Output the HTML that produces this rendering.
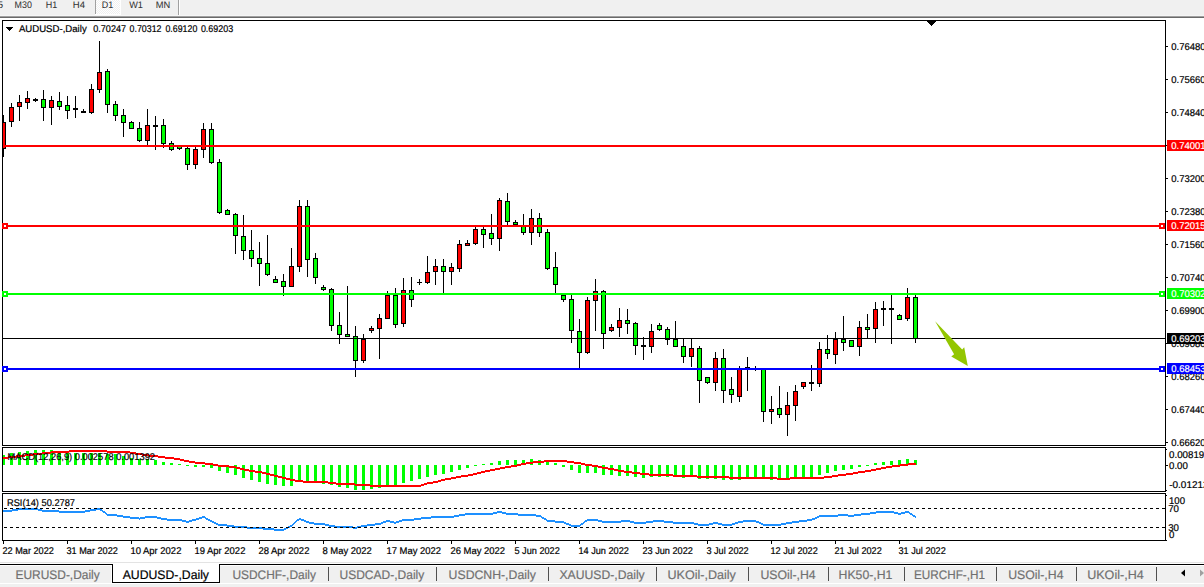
<!DOCTYPE html>
<html lang="en"><head><meta charset="utf-8"><title>AUDUSD-,Daily</title>
<style>html,body{margin:0;padding:0;background:#fff;overflow:hidden}svg{display:block}text{white-space:pre}</style></head>
<body>
<svg width="1204" height="587" viewBox="0 0 1204 587" font-family='"Liberation Sans", sans-serif' font-size="9.8" fill="#000" text-rendering="geometricPrecision">
<defs><clipPath id="cm"><rect x="3" y="21" width="1162" height="424"/></clipPath><clipPath id="cd"><rect x="3" y="448" width="1162" height="43"/></clipPath><clipPath id="cr"><rect x="3" y="494" width="1162" height="46"/></clipPath><pattern id="dth" width="2" height="2" patternUnits="userSpaceOnUse"><rect width="2" height="2" fill="#fff"/><rect width="1" height="1" fill="#f0f0f0"/><rect x="1" y="1" width="1" height="1" fill="#f0f0f0"/></pattern></defs>
<rect width="1204" height="587" fill="#fff"/>
<g shape-rendering="crispEdges">
<rect x="0" y="0" width="1204" height="15" fill="#f0f0f0"/>
<rect x="0" y="15" width="1204" height="1" fill="#f5f5f5"/>
<rect x="0" y="16" width="1204" height="1" fill="#a0a0a0"/>
<rect x="0" y="17" width="1204" height="1" fill="#696969"/>
<rect x="96" y="0" width="24" height="14" fill="url(#dth)"/>
<rect x="95" y="0" width="1" height="14" fill="#a0a0a0"/>
<rect x="95" y="14" width="26" height="1" fill="#fff"/>
<rect x="120" y="0" width="1" height="14" fill="#fff"/>
<rect x="178" y="0" width="1" height="15" fill="#a0a0a0"/>
<rect x="179" y="0" width="1" height="15" fill="#fff"/>
<rect x="2" y="20" width="1164" height="1"/>
<rect x="2" y="445" width="1164" height="1"/>
<rect x="2" y="20" width="1" height="426"/>
<rect x="1165" y="20" width="1" height="426"/>
<rect x="2" y="447" width="1164" height="1"/>
<rect x="2" y="491" width="1164" height="1"/>
<rect x="2" y="447" width="1" height="45"/>
<rect x="1165" y="447" width="1" height="45"/>
<rect x="2" y="493" width="1164" height="1"/>
<rect x="2" y="540" width="1164" height="1"/>
<rect x="2" y="493" width="1" height="48"/>
<rect x="1165" y="493" width="1" height="48"/>
<rect x="927" y="21" width="9" height="1"/>
<rect x="928" y="22" width="7" height="1"/>
<rect x="929" y="23" width="5" height="1"/>
<rect x="930" y="24" width="3" height="1"/>
<rect x="931" y="25" width="1" height="1"/>
<rect x="6" y="27" width="7" height="1"/>
<rect x="7" y="28" width="5" height="1"/>
<rect x="8" y="29" width="3" height="1"/>
<rect x="9" y="30" width="1" height="1"/>
<rect x="1166" y="46" width="2" height="1"/>
<rect x="1166" y="79" width="2" height="1"/>
<rect x="1166" y="112" width="2" height="1"/>
<rect x="1166" y="145" width="2" height="1"/>
<rect x="1166" y="178" width="2" height="1"/>
<rect x="1166" y="211" width="2" height="1"/>
<rect x="1166" y="244" width="2" height="1"/>
<rect x="1166" y="277" width="2" height="1"/>
<rect x="1166" y="310" width="2" height="1"/>
<rect x="1166" y="343" width="2" height="1"/>
<rect x="1166" y="376" width="2" height="1"/>
<rect x="1166" y="409" width="2" height="1"/>
<rect x="1166" y="442" width="2" height="1"/>
<rect x="1166" y="449" width="1" height="1"/>
<rect x="1166" y="465" width="2" height="1"/>
<rect x="1166" y="490" width="1" height="1"/>
<rect x="1166" y="495" width="1" height="1"/>
<rect x="1166" y="540" width="1" height="1"/>
<rect x="3" y="541" width="1" height="3"/>
<rect x="67" y="541" width="1" height="3"/>
<rect x="131" y="541" width="1" height="3"/>
<rect x="195" y="541" width="1" height="3"/>
<rect x="259" y="541" width="1" height="3"/>
<rect x="323" y="541" width="1" height="3"/>
<rect x="387" y="541" width="1" height="3"/>
<rect x="451" y="541" width="1" height="3"/>
<rect x="515" y="541" width="1" height="3"/>
<rect x="579" y="541" width="1" height="3"/>
<rect x="643" y="541" width="1" height="3"/>
<rect x="707" y="541" width="1" height="3"/>
<rect x="771" y="541" width="1" height="3"/>
<rect x="835" y="541" width="1" height="3"/>
<rect x="899" y="541" width="1" height="3"/>
<g clip-path="url(#cm)">
<rect x="3" y="115" width="1" height="42"/>
<rect x="1" y="122" width="5" height="27"/>
<rect x="2" y="123" width="3" height="25" fill="#f00"/>
<rect x="11" y="103" width="1" height="24"/>
<rect x="9" y="107" width="5" height="15"/>
<rect x="10" y="108" width="3" height="13" fill="#f00"/>
<rect x="19" y="95" width="1" height="26"/>
<rect x="17" y="102" width="5" height="5"/>
<rect x="18" y="103" width="3" height="3" fill="#f00"/>
<rect x="27" y="91" width="1" height="18"/>
<rect x="25" y="98" width="5" height="5"/>
<rect x="26" y="99" width="3" height="3" fill="#f00"/>
<rect x="35" y="98" width="1" height="4"/>
<rect x="33" y="99" width="5" height="2"/>
<rect x="43" y="90" width="1" height="31"/>
<rect x="41" y="99" width="5" height="9"/>
<rect x="42" y="100" width="3" height="7" fill="#0f0"/>
<rect x="51" y="96" width="1" height="29"/>
<rect x="49" y="100" width="5" height="8"/>
<rect x="50" y="101" width="3" height="6" fill="#f00"/>
<rect x="59" y="92" width="1" height="18"/>
<rect x="57" y="101" width="5" height="6"/>
<rect x="58" y="102" width="3" height="4" fill="#0f0"/>
<rect x="67" y="96" width="1" height="23"/>
<rect x="65" y="105" width="5" height="6"/>
<rect x="66" y="106" width="3" height="4" fill="#0f0"/>
<rect x="75" y="96" width="1" height="22"/>
<rect x="73" y="108" width="5" height="2"/>
<rect x="83" y="109" width="1" height="4"/>
<rect x="81" y="111" width="5" height="2"/>
<rect x="91" y="84" width="1" height="30"/>
<rect x="89" y="89" width="5" height="24"/>
<rect x="90" y="90" width="3" height="22" fill="#f00"/>
<rect x="99" y="41" width="1" height="52"/>
<rect x="97" y="72" width="5" height="18"/>
<rect x="98" y="73" width="3" height="16" fill="#f00"/>
<rect x="107" y="69" width="1" height="44"/>
<rect x="105" y="71" width="5" height="34"/>
<rect x="106" y="72" width="3" height="32" fill="#0f0"/>
<rect x="115" y="101" width="1" height="20"/>
<rect x="113" y="104" width="5" height="12"/>
<rect x="114" y="105" width="3" height="10" fill="#0f0"/>
<rect x="123" y="109" width="1" height="28"/>
<rect x="121" y="115" width="5" height="8"/>
<rect x="122" y="116" width="3" height="6" fill="#0f0"/>
<rect x="131" y="121" width="1" height="8"/>
<rect x="129" y="122" width="5" height="7"/>
<rect x="130" y="123" width="3" height="5" fill="#0f0"/>
<rect x="139" y="122" width="1" height="20"/>
<rect x="137" y="128" width="5" height="13"/>
<rect x="138" y="129" width="3" height="11" fill="#0f0"/>
<rect x="147" y="109" width="1" height="36"/>
<rect x="145" y="125" width="5" height="16"/>
<rect x="146" y="126" width="3" height="14" fill="#f00"/>
<rect x="155" y="116" width="1" height="34"/>
<rect x="153" y="125" width="5" height="2"/>
<rect x="163" y="119" width="1" height="29"/>
<rect x="161" y="125" width="5" height="19"/>
<rect x="162" y="126" width="3" height="17" fill="#0f0"/>
<rect x="171" y="141" width="1" height="10"/>
<rect x="169" y="143" width="5" height="7"/>
<rect x="170" y="144" width="3" height="5" fill="#0f0"/>
<rect x="179" y="145" width="1" height="5"/>
<rect x="177" y="145" width="5" height="4"/>
<rect x="178" y="146" width="3" height="2" fill="#0f0"/>
<rect x="187" y="147" width="1" height="23"/>
<rect x="185" y="148" width="5" height="17"/>
<rect x="186" y="149" width="3" height="15" fill="#0f0"/>
<rect x="195" y="147" width="1" height="22"/>
<rect x="193" y="149" width="5" height="16"/>
<rect x="194" y="150" width="3" height="14" fill="#f00"/>
<rect x="203" y="123" width="1" height="35"/>
<rect x="201" y="129" width="5" height="21"/>
<rect x="202" y="130" width="3" height="19" fill="#f00"/>
<rect x="211" y="123" width="1" height="41"/>
<rect x="209" y="129" width="5" height="34"/>
<rect x="210" y="130" width="3" height="32" fill="#0f0"/>
<rect x="219" y="159" width="1" height="55"/>
<rect x="217" y="162" width="5" height="51"/>
<rect x="218" y="163" width="3" height="49" fill="#0f0"/>
<rect x="227" y="209" width="1" height="6"/>
<rect x="225" y="210" width="5" height="5"/>
<rect x="226" y="211" width="3" height="3" fill="#0f0"/>
<rect x="235" y="213" width="1" height="41"/>
<rect x="233" y="214" width="5" height="22"/>
<rect x="234" y="215" width="3" height="20" fill="#0f0"/>
<rect x="243" y="215" width="1" height="45"/>
<rect x="241" y="236" width="5" height="15"/>
<rect x="242" y="237" width="3" height="13" fill="#0f0"/>
<rect x="251" y="230" width="1" height="37"/>
<rect x="249" y="250" width="5" height="9"/>
<rect x="250" y="251" width="3" height="7" fill="#0f0"/>
<rect x="259" y="242" width="1" height="44"/>
<rect x="257" y="258" width="5" height="6"/>
<rect x="258" y="259" width="3" height="4" fill="#0f0"/>
<rect x="267" y="235" width="1" height="41"/>
<rect x="265" y="263" width="5" height="12"/>
<rect x="266" y="264" width="3" height="10" fill="#0f0"/>
<rect x="275" y="276" width="1" height="7"/>
<rect x="273" y="279" width="5" height="4"/>
<rect x="274" y="280" width="3" height="2" fill="#0f0"/>
<rect x="283" y="274" width="1" height="22"/>
<rect x="281" y="281" width="5" height="6"/>
<rect x="282" y="282" width="3" height="4" fill="#0f0"/>
<rect x="291" y="248" width="1" height="39"/>
<rect x="289" y="266" width="5" height="21"/>
<rect x="290" y="267" width="3" height="19" fill="#f00"/>
<rect x="299" y="200" width="1" height="72"/>
<rect x="297" y="206" width="5" height="61"/>
<rect x="298" y="207" width="3" height="59" fill="#f00"/>
<rect x="307" y="200" width="1" height="77"/>
<rect x="305" y="206" width="5" height="54"/>
<rect x="306" y="207" width="3" height="52" fill="#0f0"/>
<rect x="315" y="253" width="1" height="31"/>
<rect x="313" y="258" width="5" height="20"/>
<rect x="314" y="259" width="3" height="18" fill="#0f0"/>
<rect x="323" y="285" width="1" height="6"/>
<rect x="321" y="287" width="5" height="3"/>
<rect x="322" y="288" width="3" height="1" fill="#0f0"/>
<rect x="331" y="288" width="1" height="43"/>
<rect x="329" y="289" width="5" height="37"/>
<rect x="330" y="290" width="3" height="35" fill="#0f0"/>
<rect x="339" y="312" width="1" height="32"/>
<rect x="337" y="325" width="5" height="10"/>
<rect x="338" y="326" width="3" height="8" fill="#0f0"/>
<rect x="347" y="286" width="1" height="51"/>
<rect x="345" y="334" width="5" height="3"/>
<rect x="346" y="335" width="3" height="1" fill="#0f0"/>
<rect x="355" y="326" width="1" height="51"/>
<rect x="353" y="336" width="5" height="25"/>
<rect x="354" y="337" width="3" height="23" fill="#0f0"/>
<rect x="363" y="334" width="1" height="29"/>
<rect x="361" y="339" width="5" height="22"/>
<rect x="362" y="340" width="3" height="20" fill="#f00"/>
<rect x="371" y="326" width="1" height="7"/>
<rect x="369" y="328" width="5" height="3"/>
<rect x="370" y="329" width="3" height="1" fill="#f00"/>
<rect x="379" y="314" width="1" height="45"/>
<rect x="377" y="318" width="5" height="11"/>
<rect x="378" y="319" width="3" height="9" fill="#f00"/>
<rect x="387" y="291" width="1" height="28"/>
<rect x="385" y="295" width="5" height="24"/>
<rect x="386" y="296" width="3" height="22" fill="#f00"/>
<rect x="395" y="288" width="1" height="40"/>
<rect x="393" y="295" width="5" height="30"/>
<rect x="394" y="296" width="3" height="28" fill="#0f0"/>
<rect x="403" y="278" width="1" height="49"/>
<rect x="401" y="290" width="5" height="34"/>
<rect x="402" y="291" width="3" height="32" fill="#f00"/>
<rect x="411" y="277" width="1" height="30"/>
<rect x="409" y="290" width="5" height="10"/>
<rect x="410" y="291" width="3" height="8" fill="#0f0"/>
<rect x="419" y="279" width="1" height="6"/>
<rect x="417" y="282" width="5" height="1"/>
<rect x="427" y="256" width="1" height="28"/>
<rect x="425" y="272" width="5" height="11"/>
<rect x="426" y="273" width="3" height="9" fill="#f00"/>
<rect x="435" y="259" width="1" height="26"/>
<rect x="433" y="266" width="5" height="6"/>
<rect x="434" y="267" width="3" height="4" fill="#f00"/>
<rect x="443" y="259" width="1" height="34"/>
<rect x="441" y="266" width="5" height="6"/>
<rect x="442" y="267" width="3" height="4" fill="#0f0"/>
<rect x="451" y="263" width="1" height="22"/>
<rect x="449" y="267" width="5" height="5"/>
<rect x="450" y="268" width="3" height="3" fill="#f00"/>
<rect x="459" y="240" width="1" height="32"/>
<rect x="457" y="244" width="5" height="25"/>
<rect x="458" y="245" width="3" height="23" fill="#f00"/>
<rect x="467" y="240" width="1" height="6"/>
<rect x="465" y="243" width="5" height="3"/>
<rect x="466" y="244" width="3" height="1" fill="#f00"/>
<rect x="475" y="227" width="1" height="18"/>
<rect x="473" y="229" width="5" height="15"/>
<rect x="474" y="230" width="3" height="13" fill="#f00"/>
<rect x="483" y="227" width="1" height="21"/>
<rect x="481" y="229" width="5" height="6"/>
<rect x="482" y="230" width="3" height="4" fill="#0f0"/>
<rect x="491" y="214" width="1" height="31"/>
<rect x="489" y="233" width="5" height="6"/>
<rect x="490" y="234" width="3" height="4" fill="#0f0"/>
<rect x="499" y="198" width="1" height="53"/>
<rect x="497" y="200" width="5" height="39"/>
<rect x="498" y="201" width="3" height="37" fill="#f00"/>
<rect x="507" y="193" width="1" height="32"/>
<rect x="505" y="201" width="5" height="21"/>
<rect x="506" y="202" width="3" height="19" fill="#0f0"/>
<rect x="515" y="220" width="1" height="5"/>
<rect x="513" y="222" width="5" height="3"/>
<rect x="514" y="223" width="3" height="1" fill="#0f0"/>
<rect x="523" y="214" width="1" height="21"/>
<rect x="521" y="226" width="5" height="7"/>
<rect x="522" y="227" width="3" height="5" fill="#0f0"/>
<rect x="531" y="209" width="1" height="36"/>
<rect x="529" y="218" width="5" height="15"/>
<rect x="530" y="219" width="3" height="13" fill="#f00"/>
<rect x="539" y="213" width="1" height="24"/>
<rect x="537" y="218" width="5" height="15"/>
<rect x="538" y="219" width="3" height="13" fill="#0f0"/>
<rect x="547" y="229" width="1" height="41"/>
<rect x="545" y="232" width="5" height="37"/>
<rect x="546" y="233" width="3" height="35" fill="#0f0"/>
<rect x="555" y="252" width="1" height="41"/>
<rect x="553" y="267" width="5" height="18"/>
<rect x="554" y="268" width="3" height="16" fill="#0f0"/>
<rect x="563" y="295" width="1" height="7"/>
<rect x="561" y="295" width="5" height="5"/>
<rect x="562" y="296" width="3" height="3" fill="#0f0"/>
<rect x="571" y="295" width="1" height="48"/>
<rect x="569" y="299" width="5" height="32"/>
<rect x="570" y="300" width="3" height="30" fill="#0f0"/>
<rect x="579" y="319" width="1" height="49"/>
<rect x="577" y="331" width="5" height="22"/>
<rect x="578" y="332" width="3" height="20" fill="#0f0"/>
<rect x="587" y="297" width="1" height="57"/>
<rect x="585" y="300" width="5" height="53"/>
<rect x="586" y="301" width="3" height="51" fill="#f00"/>
<rect x="595" y="279" width="1" height="52"/>
<rect x="593" y="291" width="5" height="10"/>
<rect x="594" y="292" width="3" height="8" fill="#f00"/>
<rect x="603" y="290" width="1" height="59"/>
<rect x="601" y="291" width="5" height="43"/>
<rect x="602" y="292" width="3" height="41" fill="#0f0"/>
<rect x="611" y="324" width="1" height="8"/>
<rect x="609" y="327" width="5" height="4"/>
<rect x="610" y="328" width="3" height="2" fill="#f00"/>
<rect x="619" y="308" width="1" height="29"/>
<rect x="617" y="320" width="5" height="8"/>
<rect x="618" y="321" width="3" height="6" fill="#f00"/>
<rect x="627" y="309" width="1" height="25"/>
<rect x="625" y="320" width="5" height="4"/>
<rect x="626" y="321" width="3" height="2" fill="#0f0"/>
<rect x="635" y="322" width="1" height="33"/>
<rect x="633" y="323" width="5" height="23"/>
<rect x="634" y="324" width="3" height="21" fill="#0f0"/>
<rect x="643" y="337" width="1" height="23"/>
<rect x="641" y="345" width="5" height="2"/>
<rect x="651" y="324" width="1" height="29"/>
<rect x="649" y="331" width="5" height="16"/>
<rect x="650" y="332" width="3" height="14" fill="#f00"/>
<rect x="659" y="323" width="1" height="8"/>
<rect x="657" y="325" width="5" height="5"/>
<rect x="658" y="326" width="3" height="3" fill="#0f0"/>
<rect x="667" y="327" width="1" height="18"/>
<rect x="665" y="329" width="5" height="11"/>
<rect x="666" y="330" width="3" height="9" fill="#0f0"/>
<rect x="675" y="321" width="1" height="26"/>
<rect x="673" y="339" width="5" height="8"/>
<rect x="674" y="340" width="3" height="6" fill="#0f0"/>
<rect x="683" y="339" width="1" height="24"/>
<rect x="681" y="346" width="5" height="11"/>
<rect x="682" y="347" width="3" height="9" fill="#0f0"/>
<rect x="691" y="339" width="1" height="28"/>
<rect x="689" y="348" width="5" height="9"/>
<rect x="690" y="349" width="3" height="7" fill="#f00"/>
<rect x="699" y="346" width="1" height="57"/>
<rect x="697" y="348" width="5" height="33"/>
<rect x="698" y="349" width="3" height="31" fill="#0f0"/>
<rect x="707" y="377" width="1" height="7"/>
<rect x="705" y="377" width="5" height="6"/>
<rect x="706" y="378" width="3" height="4" fill="#0f0"/>
<rect x="715" y="352" width="1" height="39"/>
<rect x="713" y="358" width="5" height="25"/>
<rect x="714" y="359" width="3" height="23" fill="#f00"/>
<rect x="723" y="349" width="1" height="54"/>
<rect x="721" y="358" width="5" height="33"/>
<rect x="722" y="359" width="3" height="31" fill="#0f0"/>
<rect x="731" y="377" width="1" height="26"/>
<rect x="729" y="389" width="5" height="6"/>
<rect x="730" y="390" width="3" height="4" fill="#0f0"/>
<rect x="739" y="366" width="1" height="36"/>
<rect x="737" y="368" width="5" height="29"/>
<rect x="738" y="369" width="3" height="27" fill="#f00"/>
<rect x="747" y="357" width="1" height="34"/>
<rect x="745" y="367" width="5" height="2"/>
<rect x="755" y="366" width="1" height="5"/>
<rect x="753" y="368" width="5" height="1"/>
<rect x="763" y="368" width="1" height="54"/>
<rect x="761" y="368" width="5" height="44"/>
<rect x="762" y="369" width="3" height="42" fill="#0f0"/>
<rect x="771" y="396" width="1" height="28"/>
<rect x="769" y="409" width="5" height="3"/>
<rect x="770" y="410" width="3" height="1" fill="#f00"/>
<rect x="779" y="386" width="1" height="32"/>
<rect x="777" y="408" width="5" height="7"/>
<rect x="778" y="409" width="3" height="5" fill="#0f0"/>
<rect x="787" y="392" width="1" height="44"/>
<rect x="785" y="405" width="5" height="10"/>
<rect x="786" y="406" width="3" height="8" fill="#f00"/>
<rect x="795" y="385" width="1" height="36"/>
<rect x="793" y="391" width="5" height="15"/>
<rect x="794" y="392" width="3" height="13" fill="#f00"/>
<rect x="803" y="382" width="1" height="7"/>
<rect x="801" y="382" width="5" height="5"/>
<rect x="802" y="383" width="3" height="3" fill="#f00"/>
<rect x="811" y="365" width="1" height="26"/>
<rect x="809" y="382" width="5" height="2"/>
<rect x="819" y="342" width="1" height="45"/>
<rect x="817" y="349" width="5" height="35"/>
<rect x="818" y="350" width="3" height="33" fill="#f00"/>
<rect x="827" y="335" width="1" height="24"/>
<rect x="825" y="349" width="5" height="5"/>
<rect x="826" y="350" width="3" height="3" fill="#0f0"/>
<rect x="835" y="332" width="1" height="32"/>
<rect x="833" y="339" width="5" height="16"/>
<rect x="834" y="340" width="3" height="14" fill="#f00"/>
<rect x="843" y="316" width="1" height="35"/>
<rect x="841" y="339" width="5" height="4"/>
<rect x="842" y="340" width="3" height="2" fill="#0f0"/>
<rect x="851" y="340" width="1" height="7"/>
<rect x="849" y="340" width="5" height="7"/>
<rect x="850" y="341" width="3" height="5" fill="#0f0"/>
<rect x="859" y="321" width="1" height="35"/>
<rect x="857" y="327" width="5" height="20"/>
<rect x="858" y="328" width="3" height="18" fill="#f00"/>
<rect x="867" y="314" width="1" height="24"/>
<rect x="865" y="327" width="5" height="3"/>
<rect x="866" y="328" width="3" height="1" fill="#0f0"/>
<rect x="875" y="302" width="1" height="41"/>
<rect x="873" y="309" width="5" height="20"/>
<rect x="874" y="310" width="3" height="18" fill="#f00"/>
<rect x="883" y="301" width="1" height="25"/>
<rect x="881" y="308" width="5" height="2"/>
<rect x="891" y="295" width="1" height="49"/>
<rect x="889" y="308" width="5" height="2"/>
<rect x="899" y="314" width="1" height="6"/>
<rect x="897" y="315" width="5" height="5"/>
<rect x="898" y="316" width="3" height="3" fill="#0f0"/>
<rect x="907" y="288" width="1" height="33"/>
<rect x="905" y="297" width="5" height="22"/>
<rect x="906" y="298" width="3" height="20" fill="#f00"/>
<rect x="915" y="295" width="1" height="48"/>
<rect x="913" y="297" width="5" height="42"/>
<rect x="914" y="298" width="3" height="40" fill="#0f0"/>
</g>
<rect x="3" y="145" width="1162" height="2" fill="#f00"/>
<rect x="3" y="225" width="1162" height="2" fill="#f00"/>
<rect x="2" y="223" width="6" height="6" fill="#f00"/>
<rect x="4" y="225" width="2" height="2" fill="#fff"/>
<rect x="1159" y="223" width="6" height="6" fill="#f00"/>
<rect x="1161" y="225" width="2" height="2" fill="#fff"/>
<rect x="3" y="293" width="1162" height="2" fill="#0f0"/>
<rect x="2" y="291" width="6" height="6" fill="#0f0"/>
<rect x="4" y="293" width="2" height="2" fill="#fff"/>
<rect x="1159" y="291" width="6" height="6" fill="#0f0"/>
<rect x="1161" y="293" width="2" height="2" fill="#fff"/>
<rect x="3" y="338" width="1162" height="1" fill="#000"/>
<rect x="3" y="368" width="1162" height="2" fill="#00f"/>
<rect x="2" y="366" width="6" height="6" fill="#00f"/>
<rect x="4" y="368" width="2" height="2" fill="#fff"/>
<rect x="1159" y="366" width="6" height="6" fill="#00f"/>
<rect x="1161" y="368" width="2" height="2" fill="#fff"/>
<g clip-path="url(#cd)">
<rect x="2" y="455" width="3" height="10" fill="#0f0"/>
<rect x="10" y="453" width="3" height="12" fill="#0f0"/>
<rect x="18" y="452" width="3" height="13" fill="#0f0"/>
<rect x="26" y="451" width="3" height="14" fill="#0f0"/>
<rect x="34" y="450" width="3" height="15" fill="#0f0"/>
<rect x="42" y="450" width="3" height="15" fill="#0f0"/>
<rect x="50" y="450" width="3" height="15" fill="#0f0"/>
<rect x="58" y="451" width="3" height="14" fill="#0f0"/>
<rect x="66" y="452" width="3" height="13" fill="#0f0"/>
<rect x="74" y="453" width="3" height="12" fill="#0f0"/>
<rect x="82" y="453" width="3" height="12" fill="#0f0"/>
<rect x="90" y="453" width="3" height="12" fill="#0f0"/>
<rect x="98" y="453" width="3" height="12" fill="#0f0"/>
<rect x="106" y="454" width="3" height="11" fill="#0f0"/>
<rect x="114" y="454" width="3" height="11" fill="#0f0"/>
<rect x="122" y="456" width="3" height="9" fill="#0f0"/>
<rect x="130" y="458" width="3" height="7" fill="#0f0"/>
<rect x="138" y="459" width="3" height="6" fill="#0f0"/>
<rect x="146" y="459" width="3" height="6" fill="#0f0"/>
<rect x="154" y="460" width="3" height="5" fill="#0f0"/>
<rect x="162" y="462" width="3" height="3" fill="#0f0"/>
<rect x="170" y="463" width="3" height="2" fill="#0f0"/>
<rect x="178" y="464" width="3" height="1" fill="#0f0"/>
<rect x="186" y="465" width="3" height="1" fill="#0f0"/>
<rect x="194" y="465" width="3" height="2" fill="#0f0"/>
<rect x="202" y="465" width="3" height="2" fill="#0f0"/>
<rect x="210" y="465" width="3" height="3" fill="#0f0"/>
<rect x="218" y="465" width="3" height="6" fill="#0f0"/>
<rect x="226" y="465" width="3" height="8" fill="#0f0"/>
<rect x="234" y="465" width="3" height="10" fill="#0f0"/>
<rect x="242" y="465" width="3" height="13" fill="#0f0"/>
<rect x="250" y="465" width="3" height="15" fill="#0f0"/>
<rect x="258" y="465" width="3" height="17" fill="#0f0"/>
<rect x="266" y="465" width="3" height="19" fill="#0f0"/>
<rect x="274" y="465" width="3" height="20" fill="#0f0"/>
<rect x="282" y="465" width="3" height="21" fill="#0f0"/>
<rect x="290" y="465" width="3" height="21" fill="#0f0"/>
<rect x="298" y="465" width="3" height="17" fill="#0f0"/>
<rect x="306" y="465" width="3" height="17" fill="#0f0"/>
<rect x="314" y="465" width="3" height="18" fill="#0f0"/>
<rect x="322" y="465" width="3" height="19" fill="#0f0"/>
<rect x="330" y="465" width="3" height="20" fill="#0f0"/>
<rect x="338" y="465" width="3" height="22" fill="#0f0"/>
<rect x="346" y="465" width="3" height="23" fill="#0f0"/>
<rect x="354" y="465" width="3" height="25" fill="#0f0"/>
<rect x="362" y="465" width="3" height="25" fill="#0f0"/>
<rect x="370" y="465" width="3" height="24" fill="#0f0"/>
<rect x="378" y="465" width="3" height="23" fill="#0f0"/>
<rect x="386" y="465" width="3" height="21" fill="#0f0"/>
<rect x="394" y="465" width="3" height="21" fill="#0f0"/>
<rect x="402" y="465" width="3" height="18" fill="#0f0"/>
<rect x="410" y="465" width="3" height="16" fill="#0f0"/>
<rect x="418" y="465" width="3" height="14" fill="#0f0"/>
<rect x="426" y="465" width="3" height="12" fill="#0f0"/>
<rect x="434" y="465" width="3" height="10" fill="#0f0"/>
<rect x="442" y="465" width="3" height="9" fill="#0f0"/>
<rect x="450" y="465" width="3" height="7" fill="#0f0"/>
<rect x="458" y="465" width="3" height="5" fill="#0f0"/>
<rect x="466" y="465" width="3" height="3" fill="#0f0"/>
<rect x="474" y="465" width="3" height="1" fill="#0f0"/>
<rect x="482" y="464" width="3" height="1" fill="#0f0"/>
<rect x="490" y="463" width="3" height="2" fill="#0f0"/>
<rect x="498" y="461" width="3" height="4" fill="#0f0"/>
<rect x="506" y="460" width="3" height="5" fill="#0f0"/>
<rect x="514" y="460" width="3" height="5" fill="#0f0"/>
<rect x="522" y="460" width="3" height="5" fill="#0f0"/>
<rect x="530" y="459" width="3" height="6" fill="#0f0"/>
<rect x="538" y="460" width="3" height="5" fill="#0f0"/>
<rect x="546" y="462" width="3" height="3" fill="#0f0"/>
<rect x="554" y="463" width="3" height="2" fill="#0f0"/>
<rect x="562" y="465" width="3" height="2" fill="#0f0"/>
<rect x="570" y="465" width="3" height="5" fill="#0f0"/>
<rect x="578" y="465" width="3" height="8" fill="#0f0"/>
<rect x="586" y="465" width="3" height="8" fill="#0f0"/>
<rect x="594" y="465" width="3" height="8" fill="#0f0"/>
<rect x="602" y="465" width="3" height="10" fill="#0f0"/>
<rect x="610" y="465" width="3" height="10" fill="#0f0"/>
<rect x="618" y="465" width="3" height="11" fill="#0f0"/>
<rect x="626" y="465" width="3" height="11" fill="#0f0"/>
<rect x="634" y="465" width="3" height="12" fill="#0f0"/>
<rect x="642" y="465" width="3" height="13" fill="#0f0"/>
<rect x="650" y="465" width="3" height="12" fill="#0f0"/>
<rect x="658" y="465" width="3" height="12" fill="#0f0"/>
<rect x="666" y="465" width="3" height="12" fill="#0f0"/>
<rect x="674" y="465" width="3" height="12" fill="#0f0"/>
<rect x="682" y="465" width="3" height="13" fill="#0f0"/>
<rect x="690" y="465" width="3" height="12" fill="#0f0"/>
<rect x="698" y="465" width="3" height="14" fill="#0f0"/>
<rect x="706" y="465" width="3" height="14" fill="#0f0"/>
<rect x="714" y="465" width="3" height="14" fill="#0f0"/>
<rect x="722" y="465" width="3" height="15" fill="#0f0"/>
<rect x="730" y="465" width="3" height="15" fill="#0f0"/>
<rect x="738" y="465" width="3" height="15" fill="#0f0"/>
<rect x="746" y="465" width="3" height="13" fill="#0f0"/>
<rect x="754" y="465" width="3" height="13" fill="#0f0"/>
<rect x="762" y="465" width="3" height="13" fill="#0f0"/>
<rect x="770" y="465" width="3" height="15" fill="#0f0"/>
<rect x="778" y="465" width="3" height="15" fill="#0f0"/>
<rect x="786" y="465" width="3" height="14" fill="#0f0"/>
<rect x="794" y="465" width="3" height="14" fill="#0f0"/>
<rect x="802" y="465" width="3" height="13" fill="#0f0"/>
<rect x="810" y="465" width="3" height="12" fill="#0f0"/>
<rect x="818" y="465" width="3" height="10" fill="#0f0"/>
<rect x="826" y="465" width="3" height="8" fill="#0f0"/>
<rect x="834" y="465" width="3" height="6" fill="#0f0"/>
<rect x="842" y="465" width="3" height="5" fill="#0f0"/>
<rect x="850" y="465" width="3" height="4" fill="#0f0"/>
<rect x="858" y="465" width="3" height="2" fill="#0f0"/>
<rect x="866" y="465" width="3" height="1" fill="#0f0"/>
<rect x="874" y="463" width="3" height="2" fill="#0f0"/>
<rect x="882" y="462" width="3" height="3" fill="#0f0"/>
<rect x="890" y="461" width="3" height="4" fill="#0f0"/>
<rect x="898" y="460" width="3" height="5" fill="#0f0"/>
<rect x="906" y="459" width="3" height="6" fill="#0f0"/>
<rect x="914" y="460" width="3" height="5" fill="#0f0"/>
</g>
<rect x="0" y="562" width="1204" height="1" fill="#e3e3e3"/>
<rect x="0" y="566" width="111" height="17" fill="#f0f0f0"/>
<rect x="220" y="566" width="984" height="17" fill="#f0f0f0"/>
<rect x="0" y="584" width="1204" height="3" fill="#f0f0f0"/>
<rect x="0" y="564" width="113" height="1"/>
<rect x="219" y="564" width="985" height="1"/>
<rect x="112" y="564" width="1" height="19"/>
<rect x="219" y="564" width="1" height="19"/>
<rect x="112" y="582" width="108" height="1"/>
<rect x="328" y="567" width="1" height="14" fill="#505050"/>
<rect x="436" y="567" width="1" height="14" fill="#505050"/>
<rect x="548" y="567" width="1" height="14" fill="#505050"/>
<rect x="656" y="567" width="1" height="14" fill="#505050"/>
<rect x="748" y="567" width="1" height="14" fill="#505050"/>
<rect x="828" y="567" width="1" height="14" fill="#505050"/>
<rect x="904" y="567" width="1" height="14" fill="#505050"/>
<rect x="996" y="567" width="1" height="14" fill="#505050"/>
<rect x="1076" y="567" width="1" height="14" fill="#505050"/>
<rect x="1156" y="567" width="1" height="14" fill="#505050"/>
</g>
<polygon points="1185,569.5 1185,576.5 1181,573" fill="#000"/>
<polygon points="1200,569.5 1200,576.5 1204,573" fill="#a0a0a0"/>
<path clip-path="url(#cd)" d="M3 457h5v2h-5zM8 456h8v2h-8zM16 455h9v2h-9zM25 454h8v2h-8zM33 453h9v2h-9zM42 452h9v2h-9zM51 451h18v2h-18zM69 450h38v2h-38zM107 451h23v2h-23zM130 452h6v2h-6zM136 453h6v2h-6zM142 454h7v2h-7zM149 455h9v2h-9zM158 456h7v2h-7zM165 457h9v2h-9zM174 458h6v2h-6zM180 459h4v2h-4zM184 460h5v2h-5zM189 461h6v2h-6zM195 462h10v2h-10zM205 463h8v2h-8zM213 464h5v2h-5zM218 465h11v2h-11zM229 466h7v2h-7zM236 467h4v2h-4zM240 468h4v2h-4zM244 469h5v2h-5zM249 470h6v2h-6zM255 471h7v2h-7zM262 472h4v2h-4zM266 473h4v2h-4zM270 474h4v2h-4zM274 475h4v2h-4zM278 476h4v2h-4zM282 477h4v2h-4zM286 478h4v2h-4zM290 479h5v2h-5zM295 480h8v2h-8zM303 481h25v2h-25zM328 482h8v2h-8zM336 483h19v2h-19zM355 484h15v2h-15zM370 485h51v2h-51zM421 484h3v2h-3zM424 483h3v2h-3zM427 482h6v2h-6zM433 481h5v2h-5zM438 480h3v2h-3zM441 479h4v2h-4zM445 478h6v2h-6zM451 477h5v2h-5zM456 476h5v2h-5zM461 475h7v2h-7zM468 474h5v2h-5zM473 473h4v2h-4zM477 472h4v2h-4zM481 471h4v2h-4zM485 470h5v2h-5zM490 469h5v2h-5zM495 468h5v2h-5zM500 467h5v2h-5zM505 466h6v2h-6zM511 465h6v2h-6zM517 464h4v2h-4zM521 463h5v2h-5zM526 462h7v2h-7zM533 461h11v2h-11zM544 460h23v2h-23zM567 461h7v2h-7zM574 462h7v2h-7zM581 463h4v2h-4zM585 464h7v2h-7zM592 465h6v2h-6zM598 466h4v2h-4zM602 467h6v2h-6zM608 468h6v2h-6zM614 469h4v2h-4zM618 470h6v2h-6zM624 471h8v2h-8zM632 472h8v2h-8zM640 473h9v2h-9zM649 474h24v2h-24zM673 475h24v2h-24zM697 476h32v2h-32zM729 477h48v2h-48zM777 478h13v2h-13zM790 477h34v2h-34zM824 476h8v2h-8zM832 475h6v2h-6zM838 474h8v2h-8zM846 473h7v2h-7zM853 472h5v2h-5zM858 471h7v2h-7zM865 470h6v2h-6zM871 469h5v2h-5zM876 468h5v2h-5zM881 467h5v2h-5zM886 466h6v2h-6zM892 465h8v2h-8zM900 464h8v2h-8zM908 463h8v2h-8z" fill="#f00" shape-rendering="crispEdges"/>
<path clip-path="url(#cr)" d="M3 510h9v2h-9zM12 509h6v2h-6zM18 508h20v2h-20zM38 509h4v2h-4zM42 510h17v2h-17zM59 511h26v2h-26zM85 510h5v2h-5zM90 509h6v2h-6zM96 508h4v2h-4zM100 509h2v2h-2zM102 510h1v2h-1zM103 511h2v2h-2zM105 512h1v2h-1zM106 513h1v2h-1zM107 514h10v2h-10zM117 515h6v2h-6zM123 516h7v2h-7zM130 517h9v2h-9zM139 518h1v2h-1zM140 517h5v2h-5zM145 516h12v2h-12zM157 517h4v2h-4zM161 518h6v2h-6zM167 519h15v2h-15zM182 520h4v2h-4zM186 521h3v2h-3zM189 520h3v2h-3zM192 519h4v2h-4zM196 518h3v2h-3zM199 517h3v2h-3zM202 516h3v2h-3zM205 517h1v2h-1zM206 518h2v2h-2zM208 519h2v2h-2zM210 520h2v2h-2zM212 521h2v2h-2zM214 522h2v2h-2zM216 523h2v2h-2zM218 524h9v2h-9zM227 525h7v2h-7zM234 526h13v2h-13zM247 527h16v2h-16zM263 528h11v2h-11zM274 529h10v2h-10zM284 528h2v2h-2zM286 527h2v2h-2zM288 526h2v2h-2zM290 525h2v2h-2zM292 524h1v2h-1zM293 523h1v2h-1zM294 522h1v2h-1zM295 521h1v2h-1zM296 520h1v2h-1zM297 519h2v2h-2zM299 518h2v2h-2zM301 519h3v2h-3zM304 520h2v2h-2zM306 521h3v2h-3zM309 522h5v2h-5zM314 523h11v2h-11zM325 524h4v2h-4zM329 525h6v2h-6zM335 526h18v2h-18zM353 527h4v2h-4zM357 526h4v2h-4zM361 525h6v2h-6zM367 524h8v2h-8zM375 523h6v2h-6zM381 522h2v2h-2zM383 521h3v2h-3zM386 520h4v2h-4zM390 521h4v2h-4zM394 522h2v2h-2zM396 521h3v2h-3zM399 520h3v2h-3zM402 519h12v2h-12zM414 518h7v2h-7zM421 517h10v2h-10zM431 516h23v2h-23zM454 515h5v2h-5zM459 514h6v2h-6zM465 513h28v2h-28zM493 512h4v2h-4zM497 511h5v2h-5zM502 512h4v2h-4zM506 513h12v2h-12zM518 514h18v2h-18zM536 515h5v2h-5zM541 516h1v2h-1zM542 517h2v2h-2zM544 518h2v2h-2zM546 519h1v2h-1zM547 520h8v2h-8zM555 521h9v2h-9zM564 522h2v2h-2zM566 523h3v2h-3zM569 524h2v2h-2zM571 525h9v2h-9zM580 524h1v2h-1zM581 523h2v2h-2zM583 522h1v2h-1zM584 521h1v2h-1zM585 520h2v2h-2zM587 519h11v2h-11zM598 520h4v2h-4zM602 521h19v2h-19zM621 520h9v2h-9zM630 521h4v2h-4zM634 522h12v2h-12zM646 521h7v2h-7zM653 520h11v2h-11zM664 521h9v2h-9zM673 522h21v2h-21zM694 523h4v2h-4zM698 524h11v2h-11zM709 523h4v2h-4zM713 522h5v2h-5zM718 523h4v2h-4zM722 524h10v2h-10zM732 523h3v2h-3zM735 522h3v2h-3zM738 521h5v2h-5zM743 520h13v2h-13zM756 521h3v2h-3zM759 522h2v2h-2zM761 523h2v2h-2zM763 524h18v2h-18zM781 523h5v2h-5zM786 522h6v2h-6zM792 521h7v2h-7zM799 520h8v2h-8zM807 519h5v2h-5zM812 518h3v2h-3zM815 517h2v2h-2zM817 516h2v2h-2zM819 515h19v2h-19zM838 514h10v2h-10zM848 515h6v2h-6zM854 514h7v2h-7zM861 513h9v2h-9zM870 512h6v2h-6zM876 511h18v2h-18zM894 512h4v2h-4zM898 513h3v2h-3zM901 512h4v2h-4zM905 511h4v2h-4zM909 512h1v2h-1zM910 513h2v2h-2zM912 514h1v2h-1zM913 515h2v2h-2zM915 516h1v2h-1z" fill="#1e90ff" shape-rendering="crispEdges"/>
<g shape-rendering="crispEdges">
<path d="M4 508.5h3M10 508.5h3M16 508.5h3M22 508.5h3M28 508.5h3M34 508.5h3M40 508.5h3M46 508.5h3M52 508.5h3M58 508.5h3M64 508.5h3M70 508.5h3M76 508.5h3M82 508.5h3M88 508.5h3M94 508.5h3M100 508.5h3M106 508.5h3M112 508.5h3M118 508.5h3M124 508.5h3M130 508.5h3M136 508.5h3M142 508.5h3M148 508.5h3M154 508.5h3M160 508.5h3M166 508.5h3M172 508.5h3M178 508.5h3M184 508.5h3M190 508.5h3M196 508.5h3M202 508.5h3M208 508.5h3M214 508.5h3M220 508.5h3M226 508.5h3M232 508.5h3M238 508.5h3M244 508.5h3M250 508.5h3M256 508.5h3M262 508.5h3M268 508.5h3M274 508.5h3M280 508.5h3M286 508.5h3M292 508.5h3M298 508.5h3M304 508.5h3M310 508.5h3M316 508.5h3M322 508.5h3M328 508.5h3M334 508.5h3M340 508.5h3M346 508.5h3M352 508.5h3M358 508.5h3M364 508.5h3M370 508.5h3M376 508.5h3M382 508.5h3M388 508.5h3M394 508.5h3M400 508.5h3M406 508.5h3M412 508.5h3M418 508.5h3M424 508.5h3M430 508.5h3M436 508.5h3M442 508.5h3M448 508.5h3M454 508.5h3M460 508.5h3M466 508.5h3M472 508.5h3M478 508.5h3M484 508.5h3M490 508.5h3M496 508.5h3M502 508.5h3M508 508.5h3M514 508.5h3M520 508.5h3M526 508.5h3M532 508.5h3M538 508.5h3M544 508.5h3M550 508.5h3M556 508.5h3M562 508.5h3M568 508.5h3M574 508.5h3M580 508.5h3M586 508.5h3M592 508.5h3M598 508.5h3M604 508.5h3M610 508.5h3M616 508.5h3M622 508.5h3M628 508.5h3M634 508.5h3M640 508.5h3M646 508.5h3M652 508.5h3M658 508.5h3M664 508.5h3M670 508.5h3M676 508.5h3M682 508.5h3M688 508.5h3M694 508.5h3M700 508.5h3M706 508.5h3M712 508.5h3M718 508.5h3M724 508.5h3M730 508.5h3M736 508.5h3M742 508.5h3M748 508.5h3M754 508.5h3M760 508.5h3M766 508.5h3M772 508.5h3M778 508.5h3M784 508.5h3M790 508.5h3M796 508.5h3M802 508.5h3M808 508.5h3M814 508.5h3M820 508.5h3M826 508.5h3M832 508.5h3M838 508.5h3M844 508.5h3M850 508.5h3M856 508.5h3M862 508.5h3M868 508.5h3M874 508.5h3M880 508.5h3M886 508.5h3M892 508.5h3M898 508.5h3M904 508.5h3M910 508.5h3M916 508.5h3M922 508.5h3M928 508.5h3M934 508.5h3M940 508.5h3M946 508.5h3M952 508.5h3M958 508.5h3M964 508.5h3M970 508.5h3M976 508.5h3M982 508.5h3M988 508.5h3M994 508.5h3M1000 508.5h3M1006 508.5h3M1012 508.5h3M1018 508.5h3M1024 508.5h3M1030 508.5h3M1036 508.5h3M1042 508.5h3M1048 508.5h3M1054 508.5h3M1060 508.5h3M1066 508.5h3M1072 508.5h3M1078 508.5h3M1084 508.5h3M1090 508.5h3M1096 508.5h3M1102 508.5h3M1108 508.5h3M1114 508.5h3M1120 508.5h3M1126 508.5h3M1132 508.5h3M1138 508.5h3M1144 508.5h3M1150 508.5h3M1156 508.5h3M1162 508.5h3" stroke="#000" stroke-width="1" fill="none"/>
<path d="M4 527.5h3M10 527.5h3M16 527.5h3M22 527.5h3M28 527.5h3M34 527.5h3M40 527.5h3M46 527.5h3M52 527.5h3M58 527.5h3M64 527.5h3M70 527.5h3M76 527.5h3M82 527.5h3M88 527.5h3M94 527.5h3M100 527.5h3M106 527.5h3M112 527.5h3M118 527.5h3M124 527.5h3M130 527.5h3M136 527.5h3M142 527.5h3M148 527.5h3M154 527.5h3M160 527.5h3M166 527.5h3M172 527.5h3M178 527.5h3M184 527.5h3M190 527.5h3M196 527.5h3M202 527.5h3M208 527.5h3M214 527.5h3M220 527.5h3M226 527.5h3M232 527.5h3M238 527.5h3M244 527.5h3M250 527.5h3M256 527.5h3M262 527.5h3M268 527.5h3M274 527.5h3M280 527.5h3M286 527.5h3M292 527.5h3M298 527.5h3M304 527.5h3M310 527.5h3M316 527.5h3M322 527.5h3M328 527.5h3M334 527.5h3M340 527.5h3M346 527.5h3M352 527.5h3M358 527.5h3M364 527.5h3M370 527.5h3M376 527.5h3M382 527.5h3M388 527.5h3M394 527.5h3M400 527.5h3M406 527.5h3M412 527.5h3M418 527.5h3M424 527.5h3M430 527.5h3M436 527.5h3M442 527.5h3M448 527.5h3M454 527.5h3M460 527.5h3M466 527.5h3M472 527.5h3M478 527.5h3M484 527.5h3M490 527.5h3M496 527.5h3M502 527.5h3M508 527.5h3M514 527.5h3M520 527.5h3M526 527.5h3M532 527.5h3M538 527.5h3M544 527.5h3M550 527.5h3M556 527.5h3M562 527.5h3M568 527.5h3M574 527.5h3M580 527.5h3M586 527.5h3M592 527.5h3M598 527.5h3M604 527.5h3M610 527.5h3M616 527.5h3M622 527.5h3M628 527.5h3M634 527.5h3M640 527.5h3M646 527.5h3M652 527.5h3M658 527.5h3M664 527.5h3M670 527.5h3M676 527.5h3M682 527.5h3M688 527.5h3M694 527.5h3M700 527.5h3M706 527.5h3M712 527.5h3M718 527.5h3M724 527.5h3M730 527.5h3M736 527.5h3M742 527.5h3M748 527.5h3M754 527.5h3M760 527.5h3M766 527.5h3M772 527.5h3M778 527.5h3M784 527.5h3M790 527.5h3M796 527.5h3M802 527.5h3M808 527.5h3M814 527.5h3M820 527.5h3M826 527.5h3M832 527.5h3M838 527.5h3M844 527.5h3M850 527.5h3M856 527.5h3M862 527.5h3M868 527.5h3M874 527.5h3M880 527.5h3M886 527.5h3M892 527.5h3M898 527.5h3M904 527.5h3M910 527.5h3M916 527.5h3M922 527.5h3M928 527.5h3M934 527.5h3M940 527.5h3M946 527.5h3M952 527.5h3M958 527.5h3M964 527.5h3M970 527.5h3M976 527.5h3M982 527.5h3M988 527.5h3M994 527.5h3M1000 527.5h3M1006 527.5h3M1012 527.5h3M1018 527.5h3M1024 527.5h3M1030 527.5h3M1036 527.5h3M1042 527.5h3M1048 527.5h3M1054 527.5h3M1060 527.5h3M1066 527.5h3M1072 527.5h3M1078 527.5h3M1084 527.5h3M1090 527.5h3M1096 527.5h3M1102 527.5h3M1108 527.5h3M1114 527.5h3M1120 527.5h3M1126 527.5h3M1132 527.5h3M1138 527.5h3M1144 527.5h3M1150 527.5h3M1156 527.5h3M1162 527.5h3" stroke="#000" stroke-width="1" fill="none"/>
</g>
<polygon points="935.1,321.3 962.2,349.6 964.2,347.3 967.8,365.9 951.3,356.6 954.1,354.3" fill="#93c601"/>
<text x="-2.2" y="8" textLength="5.3" lengthAdjust="spacingAndGlyphs" fill="#333" font-size="9.6" stroke="#333" stroke-width="0.05">5</text>
<text x="14.6" y="8" textLength="17.3" lengthAdjust="spacingAndGlyphs" fill="#333" font-size="9.6" stroke="#333" stroke-width="0.05">M30</text>
<text x="45.8" y="8" textLength="11.5" lengthAdjust="spacingAndGlyphs" fill="#333" font-size="9.6" stroke="#333" stroke-width="0.05">H1</text>
<text x="72.8" y="8" textLength="12.2" lengthAdjust="spacingAndGlyphs" fill="#333" font-size="9.6" stroke="#333" stroke-width="0.05">H4</text>
<text x="101.8" y="8" textLength="11.5" lengthAdjust="spacingAndGlyphs" fill="#333" font-size="9.6" stroke="#333" stroke-width="0.05">D1</text>
<text x="129.2" y="8" textLength="13.7" lengthAdjust="spacingAndGlyphs" fill="#333" font-size="9.6" stroke="#333" stroke-width="0.05">W1</text>
<text x="155.8" y="8" textLength="14.5" lengthAdjust="spacingAndGlyphs" fill="#333" font-size="9.6" stroke="#333" stroke-width="0.05">MN</text>
<text x="18.9" y="32" textLength="67.8" lengthAdjust="spacingAndGlyphs" stroke="#000" stroke-width="0.2">AUDUSD-,Daily</text>
<text x="93.3" y="32" textLength="32.7" lengthAdjust="spacingAndGlyphs" stroke="#000" stroke-width="0.2">0.70247</text>
<text x="129.6" y="32" textLength="31.9" lengthAdjust="spacingAndGlyphs" stroke="#000" stroke-width="0.2">0.70312</text>
<text x="165.4" y="32" textLength="31.9" lengthAdjust="spacingAndGlyphs" stroke="#000" stroke-width="0.2">0.69120</text>
<text x="200.9" y="32" textLength="32.3" lengthAdjust="spacingAndGlyphs" stroke="#000" stroke-width="0.2">0.69203</text>
<text x="1171.3" y="49.6" textLength="34.3" lengthAdjust="spacingAndGlyphs" stroke="#000" stroke-width="0.2">0.76480</text>
<text x="1171.3" y="82.6" textLength="34.3" lengthAdjust="spacingAndGlyphs" stroke="#000" stroke-width="0.2">0.75660</text>
<text x="1171.3" y="115.6" textLength="34.3" lengthAdjust="spacingAndGlyphs" stroke="#000" stroke-width="0.2">0.74840</text>
<text x="1171.3" y="148.6" textLength="34.3" lengthAdjust="spacingAndGlyphs" stroke="#000" stroke-width="0.2">0.74020</text>
<text x="1171.3" y="181.6" textLength="34.3" lengthAdjust="spacingAndGlyphs" stroke="#000" stroke-width="0.2">0.73200</text>
<text x="1171.3" y="214.6" textLength="34.3" lengthAdjust="spacingAndGlyphs" stroke="#000" stroke-width="0.2">0.72380</text>
<text x="1171.3" y="247.6" textLength="34.3" lengthAdjust="spacingAndGlyphs" stroke="#000" stroke-width="0.2">0.71560</text>
<text x="1171.3" y="280.6" textLength="34.3" lengthAdjust="spacingAndGlyphs" stroke="#000" stroke-width="0.2">0.70740</text>
<text x="1171.3" y="313.6" textLength="34.3" lengthAdjust="spacingAndGlyphs" stroke="#000" stroke-width="0.2">0.69900</text>
<text x="1171.3" y="346.6" textLength="34.3" lengthAdjust="spacingAndGlyphs" stroke="#000" stroke-width="0.2">0.69080</text>
<text x="1171.3" y="379.6" textLength="34.3" lengthAdjust="spacingAndGlyphs" stroke="#000" stroke-width="0.2">0.68260</text>
<text x="1171.3" y="412.6" textLength="34.3" lengthAdjust="spacingAndGlyphs" stroke="#000" stroke-width="0.2">0.67440</text>
<text x="1171.3" y="445.6" textLength="34.3" lengthAdjust="spacingAndGlyphs" stroke="#000" stroke-width="0.2">0.66620</text>
<g shape-rendering="crispEdges">
<rect x="1167" y="140" width="37" height="11" fill="#f00"/>
<rect x="1167" y="220" width="37" height="11" fill="#f00"/>
<rect x="1167" y="288" width="37" height="11" fill="#0f0"/>
<rect x="1167" y="333" width="37" height="11" fill="#000"/>
<rect x="1167" y="363" width="37" height="11" fill="#00f"/>
</g>
<text x="1171.3" y="148.6" textLength="34.3" lengthAdjust="spacingAndGlyphs" fill="#fff" stroke="#fff" stroke-width="0.2">0.74001</text>
<text x="1171.3" y="228.6" textLength="34.3" lengthAdjust="spacingAndGlyphs" fill="#fff" stroke="#fff" stroke-width="0.2">0.72015</text>
<text x="1171.3" y="296.6" textLength="34.3" lengthAdjust="spacingAndGlyphs" fill="#fff" stroke="#fff" stroke-width="0.2">0.70302</text>
<text x="1171.3" y="341.6" textLength="34.3" lengthAdjust="spacingAndGlyphs" fill="#fff" stroke="#fff" stroke-width="0.2">0.69203</text>
<text x="1171.3" y="371.6" textLength="34.3" lengthAdjust="spacingAndGlyphs" fill="#fff" stroke="#fff" stroke-width="0.2">0.68453</text>
<text x="1169" y="457.6" textLength="40.7" lengthAdjust="spacingAndGlyphs" stroke="#000" stroke-width="0.2">0.008197</text>
<text x="1169" y="468.6" textLength="18.9" lengthAdjust="spacingAndGlyphs" stroke="#000" stroke-width="0.2">0.00</text>
<text x="1169.2" y="488.4" textLength="39.4" lengthAdjust="spacingAndGlyphs" stroke="#000" stroke-width="0.2">-0.01212</text>
<text x="1169" y="504" textLength="16" lengthAdjust="spacingAndGlyphs" stroke="#000" stroke-width="0.2">100</text>
<text x="1168.2" y="512" textLength="10.8" lengthAdjust="spacingAndGlyphs" stroke="#000" stroke-width="0.2">70</text>
<text x="1168.2" y="531" textLength="10.8" lengthAdjust="spacingAndGlyphs" stroke="#000" stroke-width="0.2">30</text>
<text x="1169" y="538" textLength="5.4" lengthAdjust="spacingAndGlyphs" stroke="#000" stroke-width="0.2">0</text>
<text x="7.5" y="460.2" textLength="147.5" lengthAdjust="spacingAndGlyphs" stroke="#000" stroke-width="0.2">MACD(12,26,9) 0.002578 0.001392</text>
<text x="7.0" y="506.3" textLength="68" lengthAdjust="spacingAndGlyphs" stroke="#000" stroke-width="0.2">RSI(14) 50.2787</text>
<text x="2.4" y="553.6" textLength="51.5" lengthAdjust="spacingAndGlyphs" stroke="#000" stroke-width="0.2">22 Mar 2022</text>
<text x="66.4" y="553.6" textLength="51.5" lengthAdjust="spacingAndGlyphs" stroke="#000" stroke-width="0.2">31 Mar 2022</text>
<text x="130.4" y="553.6" textLength="51.0" lengthAdjust="spacingAndGlyphs" stroke="#000" stroke-width="0.2">10 Apr 2022</text>
<text x="194.4" y="553.6" textLength="51.0" lengthAdjust="spacingAndGlyphs" stroke="#000" stroke-width="0.2">19 Apr 2022</text>
<text x="258.4" y="553.6" textLength="51.0" lengthAdjust="spacingAndGlyphs" stroke="#000" stroke-width="0.2">28 Apr 2022</text>
<text x="322.4" y="553.6" textLength="49.4" lengthAdjust="spacingAndGlyphs" stroke="#000" stroke-width="0.2">8 May 2022</text>
<text x="386.4" y="553.6" textLength="54.7" lengthAdjust="spacingAndGlyphs" stroke="#000" stroke-width="0.2">17 May 2022</text>
<text x="450.4" y="553.6" textLength="54.7" lengthAdjust="spacingAndGlyphs" stroke="#000" stroke-width="0.2">26 May 2022</text>
<text x="514.4" y="553.6" textLength="45.4" lengthAdjust="spacingAndGlyphs" stroke="#000" stroke-width="0.2">5 Jun 2022</text>
<text x="578.4" y="553.6" textLength="50.5" lengthAdjust="spacingAndGlyphs" stroke="#000" stroke-width="0.2">14 Jun 2022</text>
<text x="642.4" y="553.6" textLength="50.5" lengthAdjust="spacingAndGlyphs" stroke="#000" stroke-width="0.2">23 Jun 2022</text>
<text x="706.4" y="553.6" textLength="42.3" lengthAdjust="spacingAndGlyphs" stroke="#000" stroke-width="0.2">3 Jul 2022</text>
<text x="770.4" y="553.6" textLength="47.4" lengthAdjust="spacingAndGlyphs" stroke="#000" stroke-width="0.2">12 Jul 2022</text>
<text x="834.4" y="553.6" textLength="47.4" lengthAdjust="spacingAndGlyphs" stroke="#000" stroke-width="0.2">21 Jul 2022</text>
<text x="898.4" y="553.6" textLength="47.4" lengthAdjust="spacingAndGlyphs" stroke="#000" stroke-width="0.2">31 Jul 2022</text>
<text x="15.5" y="579" textLength="84.2" lengthAdjust="spacingAndGlyphs" fill="#707070" font-size="12.5" stroke="#707070" stroke-width="0.2">EURUSD-,Daily</text>
<text x="122.7" y="579" textLength="86.3" lengthAdjust="spacingAndGlyphs" fill="#000" font-size="12.5" stroke="#000" stroke-width="0.2">AUDUSD-,Daily</text>
<text x="232.4" y="579" textLength="83.5" lengthAdjust="spacingAndGlyphs" fill="#707070" font-size="12.5" stroke="#707070" stroke-width="0.2">USDCHF-,Daily</text>
<text x="339.5" y="579" textLength="84.8" lengthAdjust="spacingAndGlyphs" fill="#707070" font-size="12.5" stroke="#707070" stroke-width="0.2">USDCAD-,Daily</text>
<text x="448.6" y="579" textLength="87.2" lengthAdjust="spacingAndGlyphs" fill="#707070" font-size="12.5" stroke="#707070" stroke-width="0.2">USDCNH-,Daily</text>
<text x="559.5" y="579" textLength="85.2" lengthAdjust="spacingAndGlyphs" fill="#707070" font-size="12.5" stroke="#707070" stroke-width="0.2">XAUUSD-,Daily</text>
<text x="667.5" y="579" textLength="68.4" lengthAdjust="spacingAndGlyphs" fill="#707070" font-size="12.5" stroke="#707070" stroke-width="0.2">UKOil-,Daily</text>
<text x="760.4" y="579" textLength="55.3" lengthAdjust="spacingAndGlyphs" fill="#707070" font-size="12.5" stroke="#707070" stroke-width="0.2">USOil-,H4</text>
<text x="838.6" y="579" textLength="53.8" lengthAdjust="spacingAndGlyphs" fill="#707070" font-size="12.5" stroke="#707070" stroke-width="0.2">HK50-,H1</text>
<text x="914" y="579" textLength="71" lengthAdjust="spacingAndGlyphs" fill="#707070" font-size="12.5" stroke="#707070" stroke-width="0.2">EURCHF-,H1</text>
<text x="1008.2" y="579" textLength="55.3" lengthAdjust="spacingAndGlyphs" fill="#707070" font-size="12.5" stroke="#707070" stroke-width="0.2">USOil-,H4</text>
<text x="1087.2" y="579" textLength="56.5" lengthAdjust="spacingAndGlyphs" fill="#707070" font-size="12.5" stroke="#707070" stroke-width="0.2">UKOil-,H4</text>
</svg>
</body></html>
